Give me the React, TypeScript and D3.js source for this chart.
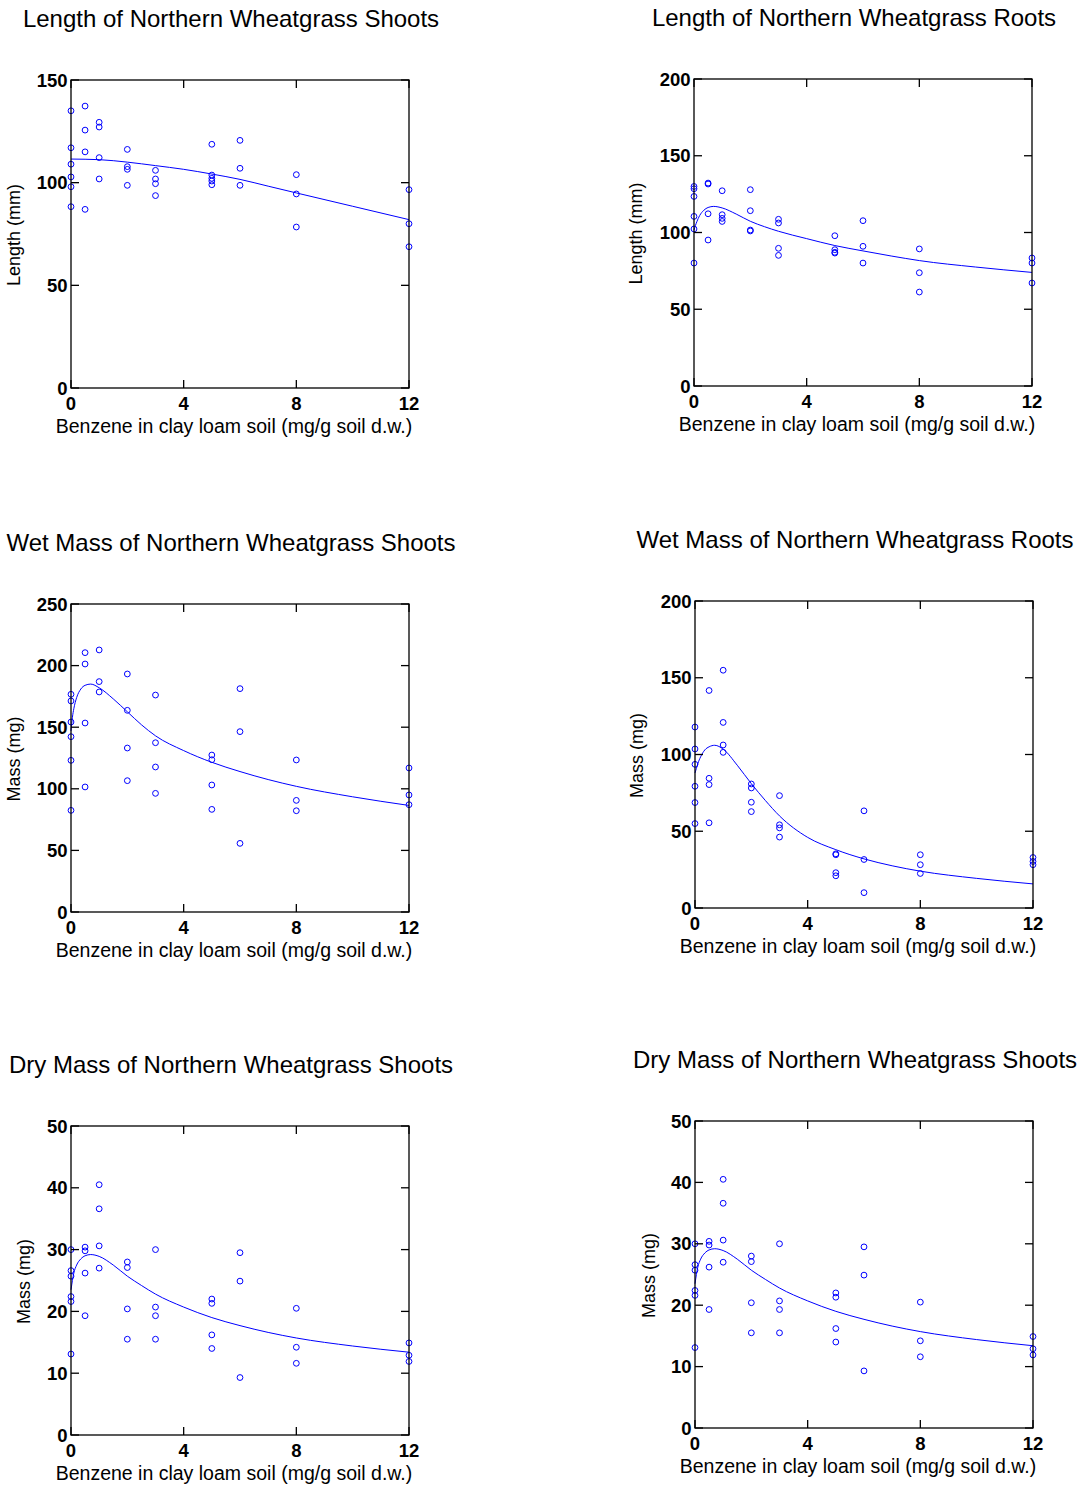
import React from 'react';
import * as d3 from 'd3';

// ---------- data ----------
const doses = [0, 0.5, 1, 2, 3, 5, 6, 8, 12];
const xTicks = [0, 4, 8, 12];

const shootLength = [
  [135, 117, 109, 102.8, 98, 88.3],
  [137.3, 125.6, 115, 87],
  [129.4, 127.1, 112.2, 101.8],
  [116.2, 107.8, 106.5, 98.7],
  [106, 101.8, 99.5, 93.7],
  [118.7, 103.7, 102.1, 100.8, 99],
  [120.6, 107, 98.7],
  [103.9, 94.5, 78.4],
  [96.6, 80, 68.8],
];
const rootLength = [
  [130, 128.5, 123.5, 110.5, 102.3, 80.1],
  [132.2, 131.6, 112.2, 95.1],
  [127.2, 111.6, 109.2, 107.2],
  [127.9, 114.2, 101.6, 101],
  [108.6, 106.2, 89.7, 85.1],
  [97.9, 88.8, 87.1, 86.6],
  [107.7, 91, 80.1],
  [89.3, 73.8, 61.2],
  [83.4, 80.1, 67.1],
];
const shootWet = [
  [176.7, 171.3, 154.2, 142.3, 123.1, 82.5],
  [210.5, 201.3, 153.4, 101.5],
  [212.7, 187, 178.6],
  [193.2, 163.7, 133.1, 106.6],
  [176.1, 137.4, 117.7, 96.3],
  [127.4, 123.6, 103.1, 83.3],
  [181.3, 146.4, 55.7],
  [123.4, 90.6, 82.2],
  [116.9, 95, 87.1],
];
const rootWet = [
  [117.9, 103.6, 93.6, 79.3, 68.7, 55],
  [141.7, 84.5, 80.4, 55.5],
  [154.9, 120.9, 106.2, 101.4],
  [80.8, 78.2, 68.9, 62.8],
  [73.2, 54.2, 52.2, 46.2],
  [35.3, 34.7, 23, 21],
  [63.3, 31.6, 10],
  [34.7, 28.2, 22.5],
  [32.9, 30.3, 28.2],
];
const shootDry = [
  [30, 26.6, 25.7, 22.4, 21.6, 13.1],
  [30.4, 29.8, 26.2, 19.3],
  [40.5, 36.6, 30.6, 27],
  [28, 27.1, 20.4, 15.5],
  [30, 20.7, 19.3, 15.5],
  [22, 21.3, 16.2, 14],
  [29.5, 24.9, 9.3],
  [20.5, 14.2, 11.6],
  [14.9, 12.9, 11.9],
];

// fitted curves
const fitXShort = [0, 1, 2, 3, 4, 5, 6, 7, 8, 10, 12];
const shootLengthFit = [111.5, 111.2, 110, 108.3, 106.5, 104.2, 101.6, 98.3, 95, 88.5, 82];
const fitX = [0, 0.05, 0.1, 0.2, 0.35, 0.5, 0.7, 1, 1.5, 2, 2.5, 3, 4, 5, 6, 7, 8, 10, 12];
const rootLengthFit = [101.5, 104.5, 107, 111, 114.5, 116.3, 117, 116, 112, 107.3, 103.8, 100.8, 96, 91.5, 88, 84.7, 81.7, 77.5, 74];
const shootWetFit = [147, 158, 165, 174, 181, 184, 185, 182, 173, 162.5, 152, 143, 131, 121.5, 114, 107.5, 102, 93.5, 86.5];
const rootWetFit = [88, 91, 94, 98.5, 103, 105, 106, 103.5, 93, 81, 70, 60, 46, 38, 32, 27.5, 24, 19.3, 15.7];
const shootDryFit = [23.5, 25, 26.2, 27.5, 28.5, 29, 29.2, 28.9, 27.5, 25.7, 24.2, 22.8, 20.7, 19, 17.7, 16.6, 15.7, 14.4, 13.4];

const titles = [
  'Length of Northern Wheatgrass Shoots',
  'Length of Northern Wheatgrass Roots',
  'Wet Mass of Northern Wheatgrass Shoots',
  'Wet Mass of Northern Wheatgrass Roots',
  'Dry Mass of Northern Wheatgrass Shoots',
  'Dry Mass of Northern Wheatgrass Shoots',
];
const yLabels = ['Length (mm)', 'Length (mm)', 'Mass (mg)', 'Mass (mg)', 'Mass (mg)', 'Mass (mg)'];
const xLabel = 'Benzene in clay loam soil (mg/g soil d.w.)';

// ---------- layout ----------
const panels = [
  { left: 71, top: 80, w: 338, h: 308, yMax: 150, yTicks: [0, 50, 100, 150], yl: -51.5, pts: shootLength, fx: fitXShort, fy: shootLengthFit },
  { left: 694, top: 79, w: 338, h: 307, yMax: 200, yTicks: [0, 50, 100, 150, 200], yl: -52.5, pts: rootLength, fx: fitX, fy: rootLengthFit },
  { left: 71, top: 604, w: 338, h: 308, yMax: 250, yTicks: [0, 50, 100, 150, 200, 250], yl: -51.5, pts: shootWet, fx: fitX, fy: shootWetFit },
  { left: 695, top: 601, w: 338, h: 307, yMax: 200, yTicks: [0, 50, 100, 150, 200], yl: -52, pts: rootWet, fx: fitX, fy: rootWetFit },
  { left: 71, top: 1126, w: 338, h: 309, yMax: 50, yTicks: [0, 10, 20, 30, 40, 50], yl: -41, pts: shootDry, fx: fitX, fy: shootDryFit },
  { left: 695, top: 1121, w: 338, h: 307, yMax: 50, yTicks: [0, 10, 20, 30, 40, 50], yl: -40, pts: shootDry, fx: fitX, fy: shootDryFit },
];

const FONT = '"Liberation Sans", Arial, Helvetica, sans-serif';
const BLUE = '#0000ff';
const TICK = 8;

function Panel({ p, i }: { p: any; i: number }) {
  const x = d3.scaleLinear().domain([0, 12]).range([p.left, p.left + p.w]);
  const y = d3.scaleLinear().domain([0, p.yMax]).range([p.top + p.h, p.top]);
  const line = d3
    .line<number>()
    .x((_, k) => x(p.fx[k]))
    .y((v) => y(v))
    .curve(d3.curveMonotoneX);
  const bottom = p.top + p.h;
  const right = p.left + p.w;
  return (
    <g>
      <text x={p.left + 160} y={p.top - 53} textAnchor="middle" fontSize={24} fontFamily={FONT} fill="#000">
        {titles[i]}
      </text>
      <path d={line(p.fy) || ''} fill="none" stroke={BLUE} strokeWidth={1} />
      {p.pts.map((vals: number[], di: number) =>
        vals.map((v: number, k: number) => (
          <circle key={`${di}-${k}`} cx={x(doses[di])} cy={y(v)} r={2.9} fill="none" stroke={BLUE} strokeWidth={1} />
        ))
      )}
      <rect x={p.left} y={p.top} width={p.w} height={p.h} fill="none" stroke="#000" strokeWidth={1.3} />
      {xTicks.map((t) => (
        <g key={`xt${t}`}>
          <line x1={x(t)} x2={x(t)} y1={bottom} y2={bottom - TICK} stroke="#000" strokeWidth={1.3} />
          <line x1={x(t)} x2={x(t)} y1={p.top} y2={p.top + TICK} stroke="#000" strokeWidth={1.3} />
          <text x={x(t)} y={bottom + 22} textAnchor="middle" fontSize={18.5} fontWeight="bold" fontFamily={FONT} fill="#000">
            {t}
          </text>
        </g>
      ))}
      {p.yTicks.map((t: number) => (
        <g key={`yt${t}`}>
          <line x1={p.left} x2={p.left + TICK} y1={y(t)} y2={y(t)} stroke="#000" strokeWidth={1.3} />
          <line x1={right} x2={right - TICK} y1={y(t)} y2={y(t)} stroke="#000" strokeWidth={1.3} />
          <text x={p.left - 3.5} y={y(t)} dy="0.36em" textAnchor="end" fontSize={18.5} fontWeight="bold" fontFamily={FONT} fill="#000">
            {t}
          </text>
        </g>
      ))}
      <text x={p.left + 163} y={bottom + 45} textAnchor="middle" fontSize={19.5} fontFamily={FONT} fill="#000">
        {xLabel}
      </text>
      <text
        transform={`translate(${p.left + p.yl},${p.top + p.h / 2 + 1}) rotate(-90)`}
        textAnchor="middle"
        fontSize={18}
        fontFamily={FONT}
        fill="#000"
      >
        {yLabels[i]}
      </text>
    </g>
  );
}

export default function App() {
  return (
    <svg
      width={1082}
      height={1485}
      viewBox="0 0 1082 1485"
      style={{ position: 'absolute', left: 0, top: 0, background: '#fff' }}
    >
      <rect x={0} y={0} width={1082} height={1485} fill="#fff" />
      {panels.map((p, i) => (
        <Panel key={i} p={p} i={i} />
      ))}
    </svg>
  );
}
